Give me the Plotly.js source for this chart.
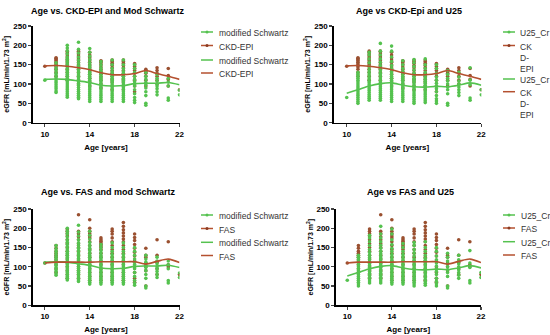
<!DOCTYPE html>
<html><head><meta charset="utf-8">
<script src="https://cdn.plot.ly/plotly-3.0.1.min.js"></script>
<style>html,body{margin:0;padding:0;background:#fff}#chart{width:550px;height:335px}</style>
</head><body><div id="chart"></div>
<script>
const ages = [10,11,12,13,14,15,16,17,18,19,20,21,22];

// individual eGFR values per age (index = age - 10)
const schwartzPts = [
  [110],
  [78,82,88,93,98,103,108,113,118,123,128,134,140,147,155],
  [66,70,75,80,85,90,95,100,105,110,115,120,125,130,135,140,146,152,158,164,170,178,186,193,200],
  [62,66,71,76,81,86,91,96,101,106,111,116,121,126,131,136,142,148,155,162,170,180,190,208],
  [55,60,65,70,75,80,85,90,95,100,105,110,115,120,125,130,136,142,148,155,163,172,182,192],
  [55,60,65,70,75,80,85,90,95,100,105,110,115,120,125,130,136,142,150,158],
  [55,60,65,70,75,80,85,90,95,100,105,110,115,120,126,132,140,150,162],
  [55,60,65,70,75,80,85,90,95,100,105,110,115,120,126,132,140,150,162],
  [52,58,65,75,85,95,100,106,112,120,130,140,150],
  [45,50,70,80,90,98,104,112,120,130],
  [72,80,88,95,100,108,115,125],
  [58,64,95,105,115],
  [72,84]
];
const ckdEpiPts = [
  [146],
  [120,130,138,144,148,152,156,160,163,166,168],
  [110,120,130,138,145,150,155,160,165,170,175,180,185],
  [100,110,120,130,138,145,150,155,160,165,170,175,180,185],
  [95,105,115,125,132,138,144,150,156,162,168,175,182],
  [90,100,110,118,125,132,138,144,150,155,158,160],
  [85,95,105,112,120,128,135,142,148,154,158,162],
  [85,95,105,112,120,128,135,142,148,154,158,162],
  [80,95,110,120,128,135,140,145,150,153],
  [95,110,120,128,132,135,138],
  [100,110,120,128,135,142],
  [95,112,122,140],
  [85]
];
const u25Pts = [
  [65],
  [50,55,60,65,70,75,80,85,90,95,100,105,110,115,120,125,130],
  [58,63,68,73,78,83,88,93,98,103,108,113,118,124,130,137,145,155,165,175,182],
  [58,63,68,73,78,83,88,93,98,103,108,113,118,123,128,134,140,148,156,165,175,185,205],
  [55,60,65,70,75,80,85,90,95,100,105,110,115,120,126,132,140,148,158,170,185,198],
  [55,60,65,70,75,80,85,90,95,100,105,110,115,120,126,132,140,150,160],
  [50,55,60,65,70,75,80,85,90,95,100,105,110,115,120,128,136,145,155,163],
  [52,57,62,67,72,77,82,87,92,97,102,107,112,117,122,130,140,150,165],
  [50,56,62,70,80,88,95,102,110,118,128,140,150],
  [45,50,75,85,92,100,108,115,125,135],
  [70,78,85,92,100,108,118,130],
  [58,64,98,110,142],
  [72,85]
];
const fasPts = [
  [110],
  [85,95,105,112,118,125,130,135,140,148,155],
  [70,80,90,100,110,120,130,140,150,160,170,180,186,192,198],
  [70,80,90,100,110,120,130,140,150,160,170,178,186,192,235],
  [65,75,85,95,105,115,125,135,145,155,165,175,180,186,192,200,222],
  [65,75,85,95,105,115,125,135,145,150,154,158,162,166,170,175],
  [65,75,85,95,105,115,125,135,145,155,165,175,185,192,198],
  [65,75,85,95,105,115,125,135,145,155,165,172,180,188,196,205,215],
  [60,70,85,100,115,128,138,148,158,168,176,185],
  [50,90,100,110,125,130,148],
  [80,95,112,130,170],
  [100,105,165],
  [80]
];

// fitted / mean lines
const ckdEpiLine   = [147,148,146,142,137,129,124,124,127,135,127,120,112];
const schwartzLine = [112,113,112,108,104,97,95,96,101,102,102,104,98];
const u25Line      = [76,85,95,101,103,97,93,92,94,93,97,103,97];
const fasLine      = [110,112,112,112,112,113,113,113,113,107,114,120,111];

const titles = ['Age vs. CKD-EPI and Mod Schwartz','Age vs CKD-Epi and U25','Age vs. FAS and mod Schwartz','Age vs FAS and U25'];
const xTicks = [10,14,18,22];
const yTicks = [0,50,100,150,200,250];

const GREEN = '#55c24f', BROWN = '#b4502f', DOT_BROWN = '#9a5030';
const FONT = 'Liberation Sans, Arial, sans-serif';

function pointsTrace(pts, name, color, n) {
  const x = [], y = [];
  pts.forEach((vals, i) => vals.forEach(v => { x.push(ages[i]); y.push(v); }));
  return {type:'scatter', mode:'markers', x, y, name, showlegend:false,
    xaxis:'x'+(n===1?'':n), yaxis:'y'+(n===1?'':n),
    marker:{color, size:3.6}};
}
function lineTrace(vals, name, color, n) {
  return {type:'scatter', mode:'lines', x:ages, y:vals, name, showlegend:false,
    xaxis:'x'+(n===1?'':n), yaxis:'y'+(n===1?'':n),
    line:{color, width:1.6, shape:'spline', smoothing:0.8}};
}

const panels = [
  {n:1, g:schwartzPts, gl:schwartzLine, gName:'modified Schwartz', b:ckdEpiPts, bl:ckdEpiLine, bName:'CKD-EPI'},
  {n:2, g:u25Pts, gl:u25Line, gName:'U25_Cr', b:ckdEpiPts, bl:ckdEpiLine, bName:'CK<br>D-<br>EPI'},
  {n:3, g:schwartzPts, gl:schwartzLine, gName:'modified Schwartz', b:fasPts, bl:fasLine, bName:'FAS'},
  {n:4, g:u25Pts, gl:u25Line, gName:'U25_Cr', b:fasPts, bl:fasLine, bName:'FAS'}
];

const data = [];
panels.forEach(p => {
  data.push(pointsTrace(p.b, p.bName, DOT_BROWN, p.n));
  data.push(pointsTrace(p.g, p.gName, GREEN, p.n));
  data.push(lineTrace(p.gl, p.gName, GREEN, p.n));
  data.push(lineTrace(p.bl, p.bName, BROWN, p.n));
});

const W = 550, H = 335;
const xDom = [[32.5,179.5],[333.5,481.3],[32.5,179.5],[335.7,481]];
const xRng = [[8.9,22],[8.82,22],[8.9,22],[8.96,22]];
const yDom = [[26,122.7],[26,122.7],[209,305.3],[209,305.3]];

const layout = {
  width:W, height:H, margin:{l:0,r:0,t:0,b:0}, paper_bgcolor:'#fff', plot_bgcolor:'#fff',
  showlegend:false, font:{family:FONT, color:'#000'}, annotations:[], shapes:[]
};

// hand-placed legend blocks (symbol x-start, text x, item y centres)
const legends = [
  {sx:201, tx:217, ys:[32,45.5,60,73]},
  {sx:503, tx:518, ys:[32,45.5,79,91.7]},
  {sx:201, tx:217, ys:[215,228.5,242.3,255.5]},
  {sx:503, tx:519, ys:[215,228,241.7,255]}
];

panels.forEach((p, i) => {
  const s = p.n===1 ? '' : p.n;
  layout['xaxis'+s] = {domain:[xDom[i][0]/W, xDom[i][1]/W], range:xRng[i], anchor:'y'+s,
    tickvals:xTicks, ticks:'outside', ticklen:3, tickwidth:1.2, showgrid:false, zeroline:false,
    showline:true, linecolor:'#000', linewidth:1.3,
    tickfont:{family:FONT, size:8, weight:'bold'},
    title:{text:'Age [years]', font:{family:FONT, size:8, weight:'bold'}, standoff:6}};
  layout['yaxis'+s] = {domain:[1-yDom[i][1]/H, 1-yDom[i][0]/H], range:[0,250], anchor:'x'+s,
    tickvals:yTicks, ticks:'outside', ticklen:3, tickwidth:1.2, showgrid:false, zeroline:false,
    showline:true, linecolor:'#000', linewidth:1.3,
    tickfont:{family:FONT, size:8, weight:'bold'},
    title:{text:'eGFR [mL/min/1.73 m<sup>2</sup>]', font:{family:FONT, size:7, weight:'bold'}, standoff:2}};
  const cx = (xDom[i][0] + xDom[i][1]) / 2 + 2;
  layout.annotations.push({text:titles[i], xref:'paper', yref:'paper', x:cx/W, y:1-(i<2?10.5:192)/H,
    xanchor:'center', yanchor:'middle', showarrow:false, font:{family:FONT, size:9, weight:'bold', color:'#000'}});

  // legend
  const L = legends[i];
  const entries = [
    {name:p.gName, color:GREEN, dot:true},
    {name:p.bName, color:BROWN, dot:true},
    {name:p.gName, color:GREEN, dot:false},
    {name:p.bName, color:BROWN, dot:false}
  ];
  entries.forEach((e, k) => {
    const yc = L.ys[k];
    layout.shapes.push({type:'line', xref:'paper', yref:'paper', x0:L.sx/W, x1:(L.sx+12)/W,
      y0:1-yc/H, y1:1-yc/H, line:{color:e.color, width:1.5}});
    if (e.dot) {
      const cxp = L.sx + 6, r = 1.5;
      layout.shapes.push({type:'circle', xref:'paper', yref:'paper', x0:(cxp-r)/W, x1:(cxp+r)/W,
        y0:1-(yc+r)/H, y1:1-(yc-r)/H, fillcolor:e.color==GREEN?GREEN:'#8a3a22', line:{width:0}});
    }
    layout.annotations.push({text:e.name, xref:'paper', yref:'paper', x:L.tx/W, y:1-(yc-6)/H,
      xanchor:'left', yanchor:'top', align:'left', showarrow:false,
      font:{family:FONT, size:8.5, color:'#333'}});
  });
});

Plotly.newPlot('chart', data, layout, {displayModeBar:false, staticPlot:true});
</script>
</body></html>
